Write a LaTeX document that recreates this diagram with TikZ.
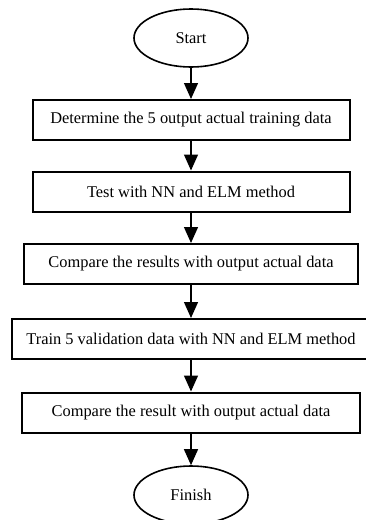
\documentclass[tikz,border=0pt]{standalone}
\usepackage{fontspec}
\setmainfont{Liberation Serif}
\usetikzlibrary{arrows.meta,shapes.geometric}

\tikzset{
	stepbox/.style = {draw, line width = 2pt, minimum height = 40pt, inner sep = 0pt},
	terminal/.style = {ellipse, draw, line width = 1.6pt, minimum width = 114pt, minimum height = 58pt, inner sep = 0pt},
	flow/.style = {-{Triangle[length=16pt,width=14pt]}, line width = 1.3pt}
}

\begin{document}
\begin{tikzpicture}[x=1pt, y=-1pt, font=\fontsize{16.4}{19}\selectfont]
		\useasboundingbox (0,0) rectangle (365,520);
		\node [terminal](start) at (191, 38) {Start};
		\node [stepbox, minimum width = 317pt](det) at (191, 120) {Determine the 5 output actual training data};
		\node [stepbox, minimum width = 317pt](test) at (191, 191.5) {Test with NN and ELM method};
		\node [stepbox, minimum width = 334pt](cmp) at (191, 264) {Compare the results with output actual data};
		\node [stepbox, minimum width = 358pt](train) at (191, 339) {Train 5 validation data with NN and ELM method};
		\node [stepbox, minimum width = 338pt](cmpval) at (191, 412.5) {Compare the result with output actual data};
		\node [terminal](finish) at (191, 495) {Finish};
		\draw [flow] (start) -- (det);
		\draw [flow] (det) -- (test);
		\draw [flow] (test) -- (cmp);
		\draw [flow] (cmp) -- (train);
		\draw [flow] (train) -- (cmpval);
		\draw [flow] (cmpval) -- (finish);
		\end{tikzpicture}
\end{document}
